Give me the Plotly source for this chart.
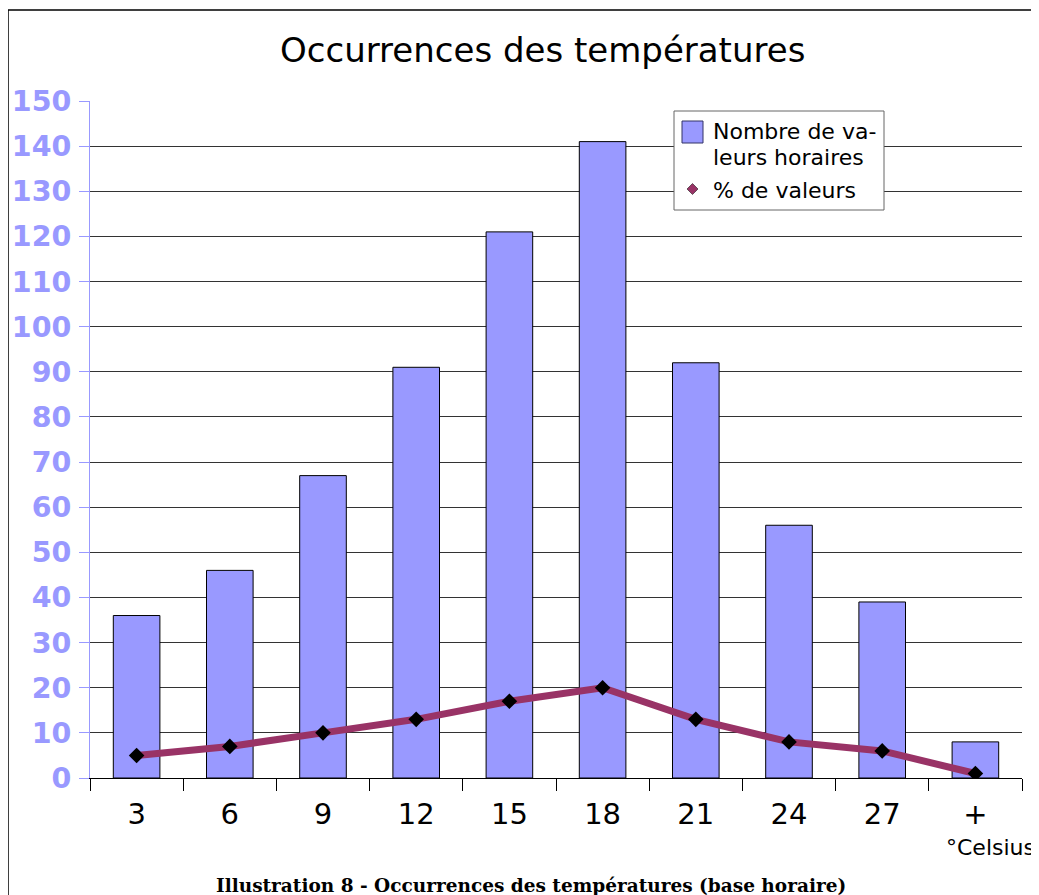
import plotly.graph_objects as go

categories = ["3", "6", "9", "12", "15", "18", "21", "24", "27", "+"]
nombre_valeurs = [36, 46, 67, 91, 121, 141, 92, 56, 39, 8]
pct_valeurs = [5, 7, 10, 13, 17, 20, 13, 8, 6, 1]

# the page body has an 8px margin, so the figure starts at page (8, 8)
W, H = 1031, 887
L, R, T, B = 82, 17, 93, 117
pw, ph = W - L - R, H - T - B
BAR_COLOR = "#9999ff"
LINE_COLOR = "#993366"


def px_x(x):
    # page pixel -> paper coordinate
    return (x - 90) / pw


def px_y(y):
    return (778 - y) / ph


def note(text, x, y, size, xanchor="center", family="DejaVu Sans"):
    return dict(text=text, x=px_x(x), y=px_y(y), xref="paper", yref="paper",
                xanchor=xanchor, yanchor="middle", showarrow=False,
                font=dict(size=size, family=family, color="#000000"))


fig = go.Figure()
fig.add_trace(go.Bar(
    x=categories, y=nombre_valeurs, name="Nombre de valeurs horaires",
    marker=dict(color=BAR_COLOR, line=dict(color="#000000", width=1)),
))
fig.add_trace(go.Scatter(
    x=categories, y=pct_valeurs, mode="lines+markers", name="% de valeurs",
    line=dict(color=LINE_COLOR, width=7),
    marker=dict(symbol="diamond", color="#000000", size=12),
))

# hand-drawn legend box
dx, dy, ds = 692.5, 189, 5.5
legend_shapes = [
    dict(type="rect", xref="paper", yref="paper",
         x0=px_x(674), x1=px_x(884), y0=px_y(210), y1=px_y(111),
         fillcolor="white", line=dict(color="#666666", width=1)),
    dict(type="rect", xref="paper", yref="paper",
         x0=px_x(682), x1=px_x(703), y0=px_y(143), y1=px_y(121),
         fillcolor=BAR_COLOR, line=dict(color="#333366", width=1)),
    dict(type="path", xref="paper", yref="paper",
         path=(f"M {px_x(dx - ds)},{px_y(dy)} L {px_x(dx)},{px_y(dy - ds)} "
               f"L {px_x(dx + ds)},{px_y(dy)} L {px_x(dx)},{px_y(dy + ds)} Z"),
         fillcolor=LINE_COLOR, line=dict(color="#000000", width=0.5)),
]

fig.update_layout(
    width=W, height=H,
    margin=dict(l=L, r=R, t=T, b=B),
    paper_bgcolor="white", plot_bgcolor="white",
    font=dict(family="DejaVu Sans", color="#000000"),
    bargap=0.5,
    showlegend=False,
    annotations=[
        note("Occurrences des températures", 542, 50, 34),
        note("Nombre de va-", 711, 132, 22, "left"),
        note("leurs horaires", 711, 157, 22, "left"),
        note("% de valeurs", 711, 190, 22, "left"),
        note("°Celsius", 944, 847, 22, "left"),
        note("<b>Illustration 8 - Occurrences des températures (base horaire)</b>",
             531, 885, 18.5, family="DejaVu Serif"),
    ],
    shapes=[
        dict(type="rect", xref="paper", yref="paper",
             x0=px_x(8), x1=px_x(1060), y0=px_y(920), y1=px_y(10),
             line=dict(color="#000000", width=1.5), layer="below"),
    ] + legend_shapes,
)

fig.update_xaxes(
    type="category", range=[-0.5, len(categories) - 0.5], automargin=False,
    showline=True, linecolor="#000000", linewidth=1,
    ticks="outside", tickson="boundaries", ticklen=12, tickcolor="#000000",
    tickfont=dict(size=29), ticklabelstandoff=10, showgrid=False,
)
fig.update_yaxes(
    range=[0, 150], dtick=10, automargin=False,
    showline=True, linecolor=BAR_COLOR, linewidth=1,
    ticks="outside", ticklen=10, tickcolor=BAR_COLOR, ticklabelstandoff=2,
    tickfont=dict(size=28.5, color=BAR_COLOR, family="DejaVu Sans", weight="bold"),
    showgrid=True, gridcolor="#333333", gridwidth=1, zeroline=False,
)

fig.write_html("out.html")
